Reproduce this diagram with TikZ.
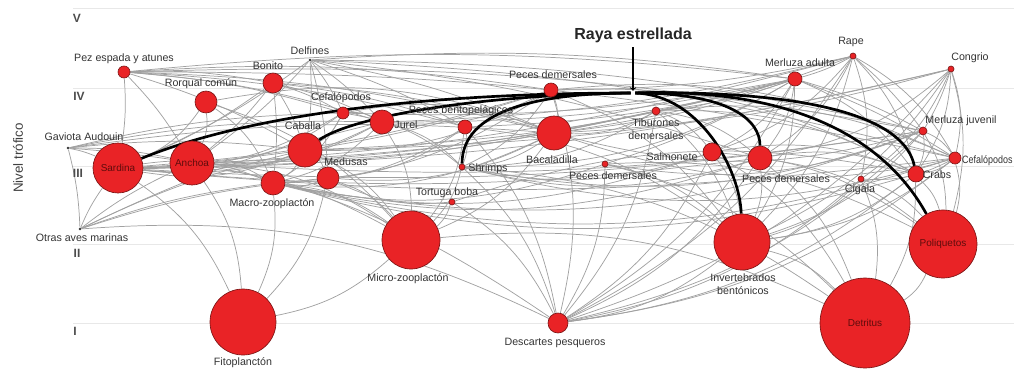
\documentclass[tikz,border=0pt]{standalone}
\usepackage{fontspec}
\setmainfont{Liberation Sans}
\pgfdeclarelayer{lines}
\pgfdeclarelayer{edges}
\pgfsetlayers{lines,edges,main}
\definecolor{webred}{RGB}{233,35,38}
\definecolor{webrim}{RGB}{125,22,22}
\definecolor{webtext}{RGB}{95,12,12}
\tikzset{
  sp/.style={circle, fill=webred, draw=webrim, line width=0.5pt, inner sep=0pt, minimum size=#1*1.5pt},
  bird/.style={circle, fill=black!80, inner sep=0pt, minimum size=2.2pt},
  lbl/.style={font=\fontsize{8}{9.5}\selectfont, text=black!80, inner sep=0pt},
  inlbl/.style={font=\fontsize{7.5}{9}\selectfont, text=webtext},
  web/.style={draw=black!37, line width=0.55pt},
  diet/.style={draw=black, line width=2pt},
  level/.style={draw=black!9, line width=0.7pt},
  lvl/.style={font=\fontsize{9}{10}\selectfont\bfseries, text=black!70, inner sep=0pt}
}
\begin{document}
\begin{tikzpicture}[x=0.75pt, y=-0.75pt]
\useasboundingbox (0,0) rectangle (1014,372);

%Trophic levels
\begin{pgfonlayer}{lines}
\foreach \yy/\nm in {8/V, 88/IV, 166/III, 244/II, 323/I} {
  \draw [level] (73,\yy) -- (1014,\yy);
}
\end{pgfonlayer}
\node [lvl] (lv5) at (77,18) {V};
\node [lvl] (lv4) at (79,96) {IV};
\node [lvl] (lv3) at (78,173) {III};
\node [lvl] (lv2) at (77,253) {II};
\node [lvl] (lv1) at (75,331) {I};
\node [rotate=90, font=\fontsize{10}{11}\selectfont, text=black!75] (ylab) at (18,158) {Nivel trófico};

%Top predators
\node [sp=6] (pez) at (124,72) {};
\node [bird] (delf) at (310,60) {};
\node [sp=10] (bonito) at (273,83) {};
\node [sp=11] (rorq) at (206,102) {};
\node [bird] (gav) at (68,148) {};
\node [bird] (otras) at (80,229) {};
\node [sp=7] (mera) at (795,79) {};
\node [sp=3] (rape) at (853,56) {};
\node [sp=3] (cong) at (951,69) {};

%Fish and cephalopods
\node [sp=25, inlbl] (sard) at (118,168) {Sardina};
\node [sp=22, inlbl] (anch) at (192,163) {Anchoa};
\node [sp=6] (cefa) at (343,113) {};
\node [sp=17] (cab) at (305,150) {};
\node [sp=12] (jurel) at (382,122) {};
\node [sp=7] (pbent) at (465,127) {};
\node [sp=7] (pdemA) at (551,90) {};
\node [sp=17] (bacal) at (554,133) {};
\node [sp=3] (pdemB) at (605,164) {};
\node [sp=4] (tib) at (656,111) {};
\node [sp=9] (salm) at (712,152) {};
\node [sp=12] (pdemC) at (760,158) {};
\node [sp=4] (merj) at (923,131) {};
\node [sp=6] (cefb) at (955,158) {};
\node [circle, inner sep=0pt, minimum size=3pt] (raya) at (633,93) {};

%Invertebrates and plankton
\node [sp=11] (medu) at (328,178) {};
\node [sp=12] (macro) at (273,183) {};
\node [sp=3] (shr) at (462,167) {};
\node [sp=3] (tort) at (452,202) {};
\node [sp=3] (cig) at (861,179) {};
\node [sp=8] (crabs) at (916,174) {};
\node [sp=29] (micro) at (411,240) {};
\node [sp=28] (inv) at (742,242) {};
\node [sp=34, inlbl] (poli) at (943,244) {Poliquetos};
\node [sp=33] (fito) at (243,322) {};
\node [sp=10] (desc) at (558,323) {};
\node [sp=45, inlbl] (detr) at (865,323) {Detritus};

%Labels
\node [lbl] (lpez) at (124,59) {Pez espada y atunes};
\node [lbl] (ldelf) at (310,51) {Delfines};
\node [lbl] (lbonito) at (268,66) {Bonito};
\node [lbl] (lrorq) at (201,84) {Rorqual común};
\node [lbl] (lgav) at (84,137) {Gaviota Audouin};
\node [lbl] (lotras) at (82,238) {Otras aves marinas};
\node [lbl] (lcefa) at (341,98) {Cefalópodos};
\node [lbl] (lcab) at (303,126) {Caballa};
\node [lbl] (ljurel) at (406,125) {Jurel};
\node [lbl] (lpbent) at (461,111) {Peces bentopelágicos};
\node [lbl] (lmedu) at (346,162) {Medusas};
\node [lbl] (lmacro) at (272,204) {Macro-zooplactón};
\node [lbl] (lfito) at (243,363) {Fitoplanctón};
\node [lbl] (ltort) at (447,193) {Tortuga boba};
\node [lbl] (lmicro) at (408,279) {Micro-zooplactón};
\node [lbl] (ldesc) at (555,343) {Descartes pesqueros};
\node [lbl] (lshr) at (488,169) {Shrimps};
\node [lbl] (lbacal) at (552,160) {Bacaladilla};
\node [lbl] (lpdemA) at (553,75) {Peces demersales};
\node [lbl] (lpdemB) at (613,176) {Peces demersales};
\node [lbl, align=center] (ltib) at (656,129) {Tiburones\\demersales};
\node [lbl] (lsalm) at (672,157) {Salmonete};
\node [lbl] (lpdemC) at (786,179) {Peces demersales};
\node [lbl] (lcig) at (860,190) {Cigala};
\node [lbl] (lcrabs) at (937,175) {Crabs};
\node [lbl, anchor=west, xscale=0.84] (lcefb) at (962,161) {Cefalópodos};
\node [lbl] (lmerj) at (961,121) {Merluza juvenil};
\node [lbl] (lmera) at (800,63) {Merluza adulta};
\node [lbl] (lrape) at (851,42) {Rape};
\node [lbl] (lcong) at (970,58) {Congrio};
\node [lbl, align=center] (linv) at (743,284) {Invertebrados\\bentónicos};
\node [font=\fontsize{12}{13}\selectfont\bfseries, text=black!85] (lraya) at (633,35) {Raya estrellada};

%Food web
\begin{pgfonlayer}{edges}
%long links of the top predators
\foreach \a/\b in {pez/sard, pez/anch, pez/cab, pez/jurel, pez/bacal, pez/cefa, pez/bonito, pez/mera, pez/cefb, pez/pdemA, pez/pbent, pez/merj,
  delf/sard, delf/anch, delf/cab, delf/jurel, delf/bacal, delf/cefa, delf/mera, delf/merj, delf/cefb, delf/pdemC, delf/medu, delf/pbent,
  bonito/sard, bonito/anch, bonito/cab, bonito/jurel, bonito/bacal, bonito/cefa, bonito/macro, bonito/pbent,
  gav/sard, gav/anch, gav/bacal, gav/otras, gav/cab, gav/jurel, gav/cefa,
  otras/sard, otras/anch, otras/macro, otras/medu, otras/cab, otras/jurel,
  mera/bacal, mera/merj, mera/jurel, mera/cab, mera/sard, mera/anch, mera/cefa, mera/cefb, mera/pdemB, mera/pbent, mera/tib,
  rape/mera, rape/merj, rape/bacal, rape/pdemA, rape/sard, rape/jurel,
  cong/merj, cong/bacal, cong/sard, cong/cab,
  merj/sard, merj/anch, cefb/sard, tib/sard, tib/anch, pdemC/sard, pdemA/sard, pdemA/anch} {
  \draw [web] (\a) to [bend left=6] (\b);
}
%other links
\foreach \a/\b in {rorq/sard, rorq/anch, rorq/macro, rorq/micro, rorq/bacal,
  gav/desc, otras/desc,
  mera/salm, mera/pdemC, mera/crabs, mera/shr, mera/inv, mera/desc,
  rape/pdemC, rape/salm, rape/cefb, rape/crabs, rape/desc, rape/inv, rape/cig,
  cong/pdemC, cong/cefb, cong/crabs, cong/cig, cong/poli, cong/inv, cong/desc,
  merj/bacal, merj/shr, merj/crabs, merj/macro, merj/inv, merj/poli, merj/cefb, merj/pdemB, merj/desc,
  cefb/crabs, cefb/shr, cefb/inv, cefb/poli, cefb/bacal, cefb/cig, cefb/desc, cefb/macro,
  crabs/poli, crabs/inv, crabs/detr, crabs/desc, crabs/macro,
  cig/poli, cig/inv, cig/detr, cig/desc,
  tib/bacal, tib/pdemC, tib/salm, tib/crabs, tib/shr, tib/inv, tib/cefb, tib/desc,
  salm/inv, salm/poli, salm/shr, salm/crabs, salm/desc, salm/detr, salm/macro,
  pdemC/inv, pdemC/poli, pdemC/crabs, pdemC/shr, pdemC/desc, pdemC/detr, pdemC/macro,
  pdemA/bacal, pdemA/shr, pdemA/inv, pdemA/cab, pdemA/jurel, pdemA/cefb, pdemA/crabs, pdemA/macro, pdemA/desc,
  bacal/macro, bacal/micro, bacal/shr, bacal/medu,
  pdemB/inv, pdemB/poli, pdemB/detr, pdemB/macro, pdemB/desc,
  jurel/macro, jurel/micro, jurel/sard, jurel/anch, jurel/shr,
  cab/macro, cab/micro, cab/sard, cab/anch, cab/medu,
  cefa/sard, cefa/anch, cefa/macro, cefa/shr, cefa/cab, cefa/jurel, cefa/bacal,
  pbent/macro, pbent/micro, pbent/shr, pbent/inv, pbent/medu, pbent/desc,
  sard/micro, sard/macro, sard/fito, anch/micro, anch/macro, anch/fito,
  macro/micro, macro/fito, micro/fito, micro/detr,
  medu/macro, medu/micro, medu/fito,
  tort/medu, tort/micro, tort/desc, tort/crabs,
  shr/detr, shr/micro, shr/desc, inv/detr, inv/desc, poli/detr} {
  \draw [web] (\a) to [bend left=15] (\b);
}

%Raya estrellada diet
\draw [diet] (sard) .. controls (260,110) and (450,93) .. (raya);
\draw [diet] (cab) .. controls (350,118) and (470,95) .. (raya);
\draw [diet] (shr) .. controls (462,110) and (540,93) .. (raya);
\draw [diet] (raya) .. controls (700,95) and (740,170) .. (inv);
\draw [diet] (raya) .. controls (730,93) and (760,120) .. (pdemC);
\draw [diet] (raya) .. controls (820,90) and (905,120) .. (crabs);
\draw [diet] (raya) .. controls (780,88) and (880,130) .. (poli);
\end{pgfonlayer}
\draw [thick, ->] (lraya) -- (raya);

\end{tikzpicture}
\end{document}
